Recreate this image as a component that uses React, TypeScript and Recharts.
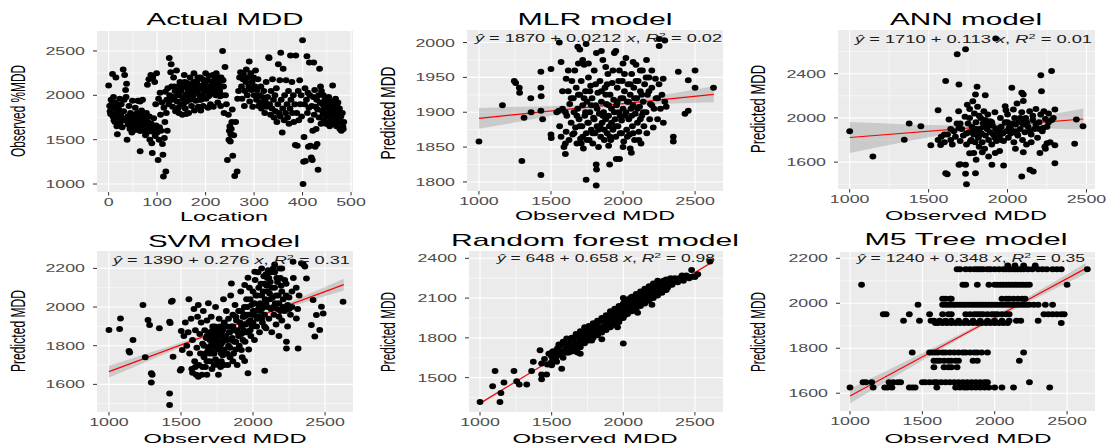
import React from 'react';
import { ComposedChart, Scatter, Line, Area, XAxis, YAxis, CartesianGrid } from 'recharts';

type Pt = [number, number];

const FONT = '"Liberation Sans", Arial, Helvetica, sans-serif';
const TICK_SCALE = 1.55;

// Observed MDD by location
const actualPts: Pt[] = [
  [0, 2110], [2, 1880], [3, 1820], [4, 1790], [5, 1950], [6, 1900], [7, 1850], [8, 2240], [9, 1760], [10, 1980],
  [11, 1720], [12, 1860], [13, 1700], [14, 1920], [15, 2200], [16, 1800], [17, 1650], [18, 1560], [19, 1750], [20, 1870],
  [22, 1830], [23, 1960], [24, 1690], [25, 1780], [26, 1900], [27, 1740], [28, 1640], [30, 2290], [31, 1820], [32, 1950],
  [33, 2230], [34, 1720], [35, 2060], [36, 1980], [37, 2130], [38, 1500], [39, 1760], [40, 1670],
  [41, 1760], [42, 1880], [43, 1720], [44, 1620], [44, 1660], [45, 1800], [46, 1690], [46, 1640], [47, 1760], [48, 1580],
  [48, 1720], [49, 1940], [50, 1700], [51, 1650], [52, 1780], [52, 1700], [53, 1730], [53, 1640], [54, 1610], [55, 1860],
  [56, 1690], [57, 1750], [57, 1680], [58, 1640], [58, 1720], [59, 1800], [60, 1720], [60, 1940], [61, 1670], [61, 1760],
  [62, 1940], [63, 1780], [63, 1700], [64, 1600], [65, 1370], [65, 1930], [66, 1710], [66, 1600], [67, 1650], [68, 1830],
  [68, 1780], [69, 1740], [70, 1690], [70, 1950], [71, 1740], [72, 1600], [73, 1780], [74, 1660], [74, 1630], [75, 1720],
  [76, 1550], [77, 1700], [78, 1800], [79, 1640], [80, 2120], [81, 1700], [82, 1590], [83, 2180], [84, 1760], [85, 1500],
  [86, 1630], [87, 2230], [88, 1680], [89, 1460], [90, 1350], [91, 2200], [92, 1590], [93, 1740], [94, 1620], [95, 2150],
  [96, 1540], [97, 1900], [98, 1660], [99, 2250], [100, 1580],
  [102, 1270], [103, 1960], [104, 1500], [105, 1640], [106, 2030], [107, 1780], [108, 1600], [110, 1920], [111, 1450],
  [112, 1330], [113, 1085], [114, 1860], [115, 1520], [116, 1700], [117, 2040], [118, 1140], [119, 1800], [120, 1950],
  [121, 1600], [122, 2080], [124, 1900], [125, 2420], [126, 2000], [128, 2260], [129, 2350], [130, 2100],
  [131, 1950], [132, 1870], [134, 2200], [135, 1980], [136, 2100], [137, 2050], [138, 1820], [140, 2280], [141, 1930],
  [142, 2000], [143, 2100], [144, 1860], [145, 1800], [146, 2000], [147, 2150], [148, 2050], [149, 1900], [150, 2060],
  [152, 1780], [153, 1960], [154, 1900], [155, 2100], [156, 2230], [157, 2150], [158, 1850], [159, 2010], [160, 1790],
  [161, 1930], [162, 2140], [163, 2000], [164, 2060], [165, 1800], [166, 2100], [167, 1970], [168, 2200], [169, 1950],
  [170, 2050], [171, 1880], [172, 2000], [173, 2120], [174, 1990], [175, 2150], [176, 2250], [177, 1830], [178, 2100],
  [179, 2080], [180, 1940], [181, 2050], [182, 2160], [183, 2030], [184, 2200], [185, 1870], [186, 2110], [187, 1950],
  [188, 2000], [189, 2200], [190, 1830], [191, 1950], [192, 2070], [193, 2000], [194, 2180], [195, 1880], [196, 2100],
  [197, 2130], [198, 2040], [199, 2150], [200, 2250], [201, 1960], [202, 2050], [203, 2100], [204, 2170], [205, 1860],
  [206, 1990], [207, 2220], [208, 2000], [209, 2080], [210, 1900], [211, 2080], [212, 2150], [213, 2030], [214, 2120],
  [215, 2230], [216, 1870], [217, 2050], [218, 2110], [219, 2190], [220, 2150], [221, 2000], [222, 2250], [223, 2000],
  [224, 2060], [225, 1920], [226, 2100], [227, 2140], [228, 2200], [229, 2050], [230, 1990], [231, 1880], [232, 2200],
  [233, 2100], [234, 2000], [235, 2500], [236, 2170], [237, 2100], [238, 1800], [240, 2320], [241, 2000],
  [243, 1900], [245, 1270], [247, 1780], [248, 1500], [249, 1600], [250, 1650], [251, 1480], [252, 1560], [253, 1620],
  [254, 1700], [255, 1840], [256, 1320], [258, 1550], [260, 1090], [262, 1700], [265, 1140], [266, 1960], [268, 2050],
  [270, 2200], [272, 2260], [274, 2100], [275, 1960], [277, 2180], [278, 2240], [280, 1880], [281, 2050], [283, 2150],
  [284, 2290], [286, 2000], [287, 2200], [289, 2100], [290, 2380], [291, 1930], [293, 2250], [294, 2060], [296, 2150],
  [297, 1870], [299, 2200], [300, 2000], [302, 2100], [303, 2280], [305, 1950], [306, 2060], [308, 2180], [309, 1880],
  [311, 2000], [312, 1920], [314, 2100], [315, 1850], [317, 1980], [318, 1900], [320, 2050], [322, 1800], [323, 1930],
  [325, 2150], [326, 1870], [328, 1980],
  [330, 2430], [331, 2420], [332, 1900], [334, 1780], [335, 2050], [337, 1850], [338, 2180], [340, 1950], [341, 1750],
  [343, 2000], [344, 1820], [346, 2080], [347, 1700], [349, 1900], [350, 2350], [351, 1800], [353, 2170], [354, 1760],
  [355, 2480], [356, 1950], [358, 1580], [359, 1850], [360, 2300], [362, 1720], [363, 2000], [365, 1800], [366, 2170],
  [368, 1900], [369, 1750], [371, 2050], [372, 1680], [374, 1850], [375, 2450], [376, 1950], [378, 2150], [379, 1800],
  [381, 2000], [382, 1700], [384, 1900], [385, 1440], [386, 2450], [388, 1800], [389, 1430], [391, 2050], [392, 1720],
  [394, 2170], [395, 1900], [397, 2000], [398, 1760],
  [400, 2620], [401, 1000], [402, 1250], [403, 1530], [404, 1900], [405, 2080], [406, 1260], [408, 1950], [409, 2440],
  [410, 1800], [411, 2030], [412, 1420], [413, 1860], [414, 2370], [415, 2000], [416, 1430], [417, 1720], [418, 1300],
  [419, 1880], [420, 1270], [421, 1600], [422, 1980], [423, 2370], [424, 1780], [425, 2060], [426, 1420], [427, 1870],
  [428, 1620], [429, 1950], [430, 1450], [431, 1840], [432, 1160], [433, 2000], [434, 1750], [435, 2300], [436, 1920],
  [437, 2100], [438, 1680], [439, 2050], [440, 1830],
  [441, 1900], [442, 1780], [443, 2000], [444, 1720], [445, 1850], [446, 1950], [447, 1800], [448, 1680], [449, 1880],
  [450, 1760], [451, 1920], [452, 1840], [453, 1700], [454, 1980], [455, 1800], [456, 1650], [457, 1870], [458, 1760],
  [459, 1930], [460, 1720], [461, 1820], [462, 2110], [463, 1680], [464, 1900], [465, 1780], [466, 1850], [467, 1700],
  [468, 1960], [469, 1800], [470, 1650], [471, 1880], [472, 1740], [473, 1920], [474, 1800], [475, 1700], [476, 1850],
  [477, 1620], [478, 1780], [479, 1760], [480, 1600], [481, 1700], [482, 1800], [483, 1650], [484, 1620], [485, 1700],
];

// MLR predictions vs observed
const mlrPts: Pt[] = [
  [1000, 1858], [1163, 1910], [1245, 1945], [1255, 1942], [1280, 1935], [1282, 1928], [1298, 1830], [1313, 1892],
  [1360, 1920], [1362, 1900], [1430, 1958], [1430, 1935], [1432, 1923], [1430, 1902], [1430, 1810], [1442, 1890],
  [1500, 1962], [1500, 1868], [1502, 1863], [1558, 2000], [1570, 1972], [1605, 1948], [1686, 1994], [1744, 1998],
  [1744, 1803], [1814, 1795], [1814, 1825], [1816, 1818], [1907, 1825], [1953, 1833], [1976, 1833], [2058, 1842],
  [2070, 1972], [2163, 1975], [2251, 2005], [2251, 1995], [2279, 1948], [2349, 1865], [2349, 1858], [2384, 1958],
  [2453, 1946], [2500, 1960], [2500, 1935], [2453, 1902], [2430, 1898], [2628, 1935], [2290, 2003],
  [1540, 1900], [1555, 1902], [1560, 1880], [1570, 1865], [1580, 1905], [1580, 1930], [1590, 1850], [1600, 1840],
  [1600, 1855], [1600, 1900], [1605, 1872], [1610, 1895], [1620, 1930], [1620, 1960], [1625, 1860], [1630, 1912],
  [1640, 1885], [1640, 1920], [1645, 1945], [1650, 1868], [1655, 1920], [1660, 1900], [1660, 1870], [1665, 1960],
  [1670, 1878], [1675, 1935], [1680, 1855], [1680, 1895], [1685, 1905], [1690, 1970], [1690, 1925], [1695, 1890],
  [1700, 1925], [1700, 1990], [1700, 1880], [1705, 1862], [1710, 1945], [1710, 1855], [1715, 1880], [1720, 1910],
  [1720, 1975], [1720, 1865], [1725, 1848], [1730, 1968], [1730, 1920], [1735, 1895], [1740, 1930], [1740, 1900],
  [1745, 1870], [1750, 1915], [1750, 1860], [1755, 1885], [1760, 1950], [1760, 1885], [1760, 1970], [1765, 1860],
  [1770, 1900], [1770, 1930], [1775, 1938], [1780, 1875], [1780, 1910], [1785, 1920], [1790, 1855], [1790, 1870],
  [1795, 1892], [1800, 1960], [1800, 1890], [1805, 1870], [1810, 1910], [1810, 1940], [1815, 1985], [1820, 1880],
  [1820, 1905], [1825, 1928], [1830, 1850], [1830, 1875], [1835, 1898], [1840, 1945], [1840, 1880], [1845, 1865],
  [1850, 1915], [1850, 1988], [1850, 1930], [1855, 1885], [1860, 1975], [1860, 1895], [1865, 1900], [1870, 1860],
  [1870, 1875], [1875, 1935], [1880, 1890], [1880, 1925], [1880, 1965], [1885, 1912], [1890, 1870], [1890, 1940],
  [1895, 1955], [1900, 1895], [1900, 1852], [1900, 1910], [1905, 1880], [1910, 1925], [1910, 1865], [1915, 1860],
  [1920, 1905], [1920, 1885], [1925, 1942], [1930, 1875], [1930, 1960], [1935, 1918], [1940, 1985], [1940, 1900],
  [1945, 1890], [1950, 1865], [1950, 1988], [1950, 1880], [1955, 1910], [1960, 1935], [1960, 1915], [1965, 1880],
  [1970, 1900], [1970, 1945], [1975, 1960], [1980, 1870], [1980, 1895], [1985, 1920], [1990, 1888], [1990, 1870],
  [1995, 1945], [2000, 1905], [2000, 1850], [2000, 1920], [2000, 1970], [2005, 1858], [2010, 1930], [2010, 1955],
  [2015, 1895], [2020, 1978], [2020, 1900], [2025, 1875], [2030, 1915], [2030, 1865], [2035, 1940], [2040, 1890],
  [2040, 1915], [2045, 1868], [2050, 1925], [2050, 1848], [2050, 1940], [2055, 1905], [2060, 1955], [2060, 1895],
  [2065, 1880], [2070, 1910], [2070, 1870], [2075, 1935], [2080, 1860], [2080, 1920], [2085, 1898], [2090, 1968],
  [2090, 1945], [2095, 1920], [2100, 1885], [2100, 1905], [2105, 1945], [2110, 1872], [2110, 1860], [2115, 1908],
  [2120, 1930], [2120, 1890], [2120, 1960], [2125, 1855], [2130, 1895], [2130, 1925], [2135, 1960], [2140, 1915],
  [2140, 1900], [2145, 1880], [2150, 1940], [2160, 1900], [2160, 1950], [2165, 1870], [2170, 1925], [2180, 1950],
  [2180, 1930], [2185, 1890], [2190, 1912], [2200, 1935], [2200, 1960], [2200, 1910], [2210, 1878], [2215, 1905],
  [2225, 1948], [2230, 1920], [2240, 1890], [2240, 1920], [2250, 1940], [2260, 1905], [2270, 1925], [2280, 1885],
  [2290, 1915], [2300, 1908],
];

// ANN predictions vs observed
const annPts: Pt[] = [
  [1000, 1879], [1147, 1652], [1346, 1803], [1377, 1949], [1451, 1924], [1514, 1752], [1560, 2070], [1576, 1755],
  [1608, 2333], [1608, 1500], [1618, 1491], [1629, 1985], [1681, 2576], [1692, 2303], [1734, 2621], [1692, 1909],
  [1692, 1576], [1734, 1494], [1734, 1576], [1740, 1400], [1765, 1788], [1786, 1682], [1797, 2212], [1807, 2282],
  [1797, 1500], [1801, 1621], [1859, 2206], [1891, 1970], [1901, 1576], [1922, 1682], [1933, 1894], [1975, 1570],
  [1985, 2106], [2027, 2273], [2037, 2076], [2090, 2227], [2100, 2212], [2090, 1470], [2100, 2152], [2142, 1530],
  [2163, 1515], [2211, 2385], [2215, 2242], [2205, 1682], [2279, 2424], [2300, 1591], [2300, 1752], [2226, 1909],
  [2300, 2076], [2425, 1767], [2436, 1985], [2478, 1924], [2236, 1740], [1925, 2718],
  [1560, 1800], [1580, 1830], [1600, 1780], [1600, 1850], [1620, 1850], [1640, 1800], [1640, 1900], [1650, 1760],
  [1660, 1880], [1670, 1830], [1680, 1950], [1690, 2060], [1700, 1790], [1700, 1580], [1700, 1950], [1710, 1900],
  [1720, 1840], [1730, 2010], [1740, 1760], [1740, 1860], [1745, 2120], [1750, 1950], [1755, 1870], [1760, 2080],
  [1760, 1680], [1760, 2000], [1770, 1800], [1775, 1920], [1780, 2150], [1780, 1880], [1785, 1850], [1790, 2040],
  [1795, 1780], [1800, 1960], [1800, 1900], [1805, 1880], [1810, 2100], [1815, 1820], [1820, 1740], [1820, 1840],
  [1820, 2020], [1825, 1900], [1830, 2000], [1835, 1860], [1840, 1780], [1840, 1690], [1845, 1950], [1850, 2060],
  [1850, 1920], [1855, 1720], [1860, 1840], [1860, 1980], [1870, 1900], [1875, 2030], [1880, 1800], [1880, 1650],
  [1880, 1940], [1890, 1870], [1900, 1760], [1900, 1960], [1905, 1930], [1910, 1850], [1920, 2050], [1920, 1820],
  [1925, 1900], [1930, 1790], [1940, 1880], [1950, 1840], [1950, 1700], [1950, 1900], [1955, 2000], [1960, 1920],
  [1960, 1800], [1970, 1860], [1975, 1790], [1985, 1960], [1990, 1880], [1990, 2070], [2000, 2030], [2000, 1960],
  [2005, 1820], [2010, 1910], [2020, 1860], [2020, 1900], [2030, 1950], [2040, 1780], [2045, 2000], [2050, 1880],
  [2050, 1720], [2050, 1940], [2060, 2130], [2060, 1860], [2065, 1840], [2070, 1960], [2080, 1900], [2080, 2000],
  [2090, 2050], [2095, 1800], [2100, 1940], [2100, 1690], [2100, 1980], [2110, 1870], [2115, 2000], [2120, 1760],
  [2120, 1960], [2130, 1920], [2140, 2060], [2140, 1880], [2150, 1850], [2150, 1780], [2160, 1980], [2160, 2020],
  [2170, 1900], [2180, 2080], [2180, 1940], [2190, 1820], [2200, 1960], [2200, 1900], [2210, 2030], [2220, 1880],
  [2230, 2060], [2240, 1990], [2240, 1720], [2250, 1920], [2250, 1770], [2260, 2040], [2260, 1960], [2270, 1780],
  [2280, 1980], [2290, 2000],
];

// SVM predictions vs observed
const svmPts: Pt[] = [
  [1000, 1881], [1080, 1941], [1074, 1886], [1167, 1829], [1139, 1772], [1144, 1765], [1236, 2010], [1252, 1740],
  [1271, 1933], [1282, 1907], [1294, 1657], [1300, 1650], [1294, 1610], [1350, 1890], [1421, 1924], [1425, 1918],
  [1433, 2028], [1440, 2032], [1445, 1743], [1421, 1553], [1421, 1493], [1502, 1680], [1495, 1672], [1509, 1778],
  [1502, 1876], [1850, 2122], [1942, 2114], [1965, 2152], [2012, 2183], [2278, 2234], [2336, 2226], [2371, 2148],
  [2301, 1941], [2313, 1786], [2232, 1786], [2232, 1821], [2417, 2036], [2405, 1907], [2429, 1847], [2463, 1881],
  [2475, 2002], [2487, 1967], [2440, 1959], [2625, 2028], [2081, 1671], [1965, 1657], [1942, 1721], [1919, 1778],
  [1520, 1850], [1530, 1920], [1540, 1800], [1550, 1870], [1555, 2040], [1560, 1760], [1570, 1940], [1575, 1680],
  [1580, 1830], [1580, 1660], [1590, 1990], [1595, 1720], [1600, 1880], [1600, 1690], [1605, 1650], [1610, 1790],
  [1615, 1950], [1620, 2010], [1620, 1640], [1625, 1700], [1630, 1860], [1635, 1760], [1640, 1920], [1645, 1650],
  [1650, 1810], [1650, 1690], [1655, 1980], [1660, 1740], [1660, 1800], [1665, 1880], [1670, 1690], [1670, 1760],
  [1675, 1840], [1680, 1930], [1680, 1650], [1680, 1850], [1680, 1720], [1685, 1770], [1690, 2020], [1690, 1790],
  [1695, 1860], [1700, 1720], [1700, 1870], [1700, 1830], [1700, 1760], [1705, 1800], [1710, 1950], [1710, 1840],
  [1710, 1770], [1715, 1680], [1720, 1880], [1720, 1810], [1720, 1900], [1720, 1760], [1725, 1830], [1730, 1760],
  [1730, 1850], [1730, 1700], [1730, 1800], [1735, 1900], [1740, 2000], [1740, 1790], [1740, 1860], [1740, 1730],
  [1745, 1820], [1750, 1710], [1750, 1830], [1750, 1880], [1755, 1860], [1760, 1780], [1760, 1860], [1760, 1650],
  [1760, 1820], [1760, 1700], [1765, 1940], [1770, 1850], [1770, 1800], [1770, 1900], [1775, 1690], [1780, 1810],
  [1780, 1870], [1780, 1760], [1780, 1720], [1785, 1890], [1790, 1750], [1790, 1820], [1790, 1880], [1795, 2040],
  [1800, 1840], [1800, 1920], [1800, 1780], [1800, 1700], [1805, 1760], [1810, 1900], [1810, 1850], [1815, 1980],
  [1820, 1830], [1820, 1900], [1820, 1760], [1825, 1700], [1830, 1940], [1830, 1800], [1835, 1870], [1840, 1790],
  [1840, 1870], [1840, 1740], [1845, 2060], [1850, 1900], [1850, 1830], [1855, 1840], [1860, 1960], [1860, 1900],
  [1860, 1720], [1865, 1760], [1870, 1880], [1870, 1820], [1875, 2010], [1880, 1820], [1880, 1950], [1880, 1780],
  [1885, 1930], [1890, 1700], [1890, 1880], [1895, 1870], [1900, 1980], [1900, 1850], [1905, 1800], [1910, 1920],
  [1910, 1980], [1915, 2080], [1920, 1860], [1920, 1900], [1920, 1980], [1925, 1740], [1930, 1950], [1930, 1830],
  [1935, 1880], [1940, 2000], [1940, 1950], [1945, 1820], [1950, 1910], [1950, 1870], [1950, 1960],
  [1955, 2040], [1960, 1870], [1960, 2000], [1965, 1960], [1970, 1780], [1970, 1920], [1975, 2100], [1980, 1930],
  [1980, 1880], [1980, 2040], [1985, 1850], [1990, 2010], [1990, 1960], [1995, 1900], [2000, 2080], [2000, 1920],
  [2000, 1980], [2005, 1960], [2010, 1830], [2010, 2020], [2015, 2140], [2020, 1980], [2020, 2060], [2025, 1900],
  [2030, 2060], [2030, 1940], [2035, 2180], [2040, 1950], [2040, 2100], [2040, 2000], [2045, 1870], [2050, 2020],
  [2050, 1980], [2055, 2120], [2060, 1990], [2060, 2060], [2060, 1940], [2060, 2200], [2065, 1920], [2070, 2080],
  [2070, 2000], [2075, 2160], [2080, 1960], [2080, 2120], [2080, 1900], [2085, 2040], [2090, 1890], [2090, 2020],
  [2090, 2170], [2095, 2110], [2100, 2000], [2100, 2080], [2100, 2150],
  [2105, 2190], [2110, 1940], [2110, 2150], [2115, 2070], [2120, 2130], [2120, 2040], [2120, 2180], [2125, 1990],
  [2130, 1870], [2130, 2100], [2135, 2050], [2140, 2200], [2140, 2000], [2145, 1960], [2150, 2100], [2150, 2180],
  [2150, 2220], [2155, 2020], [2160, 1910], [2160, 2060], [2165, 2150], [2170, 1990], [2170, 2130], [2175, 2060],
  [2180, 1850], [2180, 2020], [2180, 1950], [2185, 2200], [2190, 1980], [2190, 2150], [2195, 2110], [2200, 1930],
  [2200, 2080], [2200, 2200], [2210, 2040], [2210, 2000], [2220, 1980], [2220, 2140], [2230, 2120], [2230, 2060],
  [2240, 1900], [2240, 2010], [2250, 2050], [2250, 1990], [2260, 1960], [2270, 2000], [2270, 2080], [2280, 2150],
  [2300, 2100], [2310, 1990], [2320, 2060], [2350, 2220], [2360, 2210],
];

// Random forest predictions vs observed
const rfPts: Pt[] = [
  [1000, 1316], [1105, 1551], [1088, 1435], [1146, 1384], [1139, 1316], [1167, 1463], [1237, 1551], [1256, 1473],
  [1274, 1448], [1326, 1448], [1360, 1551], [1372, 1619], [1430, 1606], [1430, 1488], [1430, 1523], [1419, 1707],
  [1465, 1523], [1500, 1594], [1535, 1619], [1570, 1568], [1630, 1783], [1605, 1795], [2000, 1757], [2477, 2312],
  [2500, 2261], [2605, 2375],
  [1450, 1640], [1470, 1600], [1480, 1680], [1500, 1660], [1500, 1690], [1500, 1620], [1510, 1700], [1520, 1640],
  [1530, 1690], [1530, 1650], [1540, 1720], [1550, 1670], [1550, 1700], [1550, 1750], [1560, 1740], [1560, 1680],
  [1570, 1700], [1580, 1650], [1580, 1770], [1590, 1760], [1590, 1700], [1600, 1720], [1600, 1690], [1610, 1690],
  [1610, 1760], [1620, 1780], [1620, 1720], [1620, 1690], [1630, 1740], [1640, 1700], [1640, 1800], [1650, 1790],
  [1650, 1740], [1650, 1700], [1660, 1750], [1670, 1720], [1670, 1830], [1680, 1810], [1680, 1760], [1680, 1690],
  [1680, 1730], [1690, 1770], [1700, 1730], [1700, 1780], [1700, 1680], [1700, 1850], [1710, 1840], [1710, 1760],
  [1720, 1790], [1720, 1820], [1730, 1760], [1730, 1880], [1740, 1860], [1740, 1790], [1750, 1810], [1750, 1840],
  [1760, 1780], [1760, 1890], [1770, 1880], [1770, 1800], [1780, 1830], [1780, 1860], [1780, 1780], [1790, 1800],
  [1790, 1910], [1800, 1900], [1800, 1860], [1800, 1820], [1810, 1850], [1820, 1820], [1820, 1880], [1820, 1930],
  [1830, 1920], [1830, 1850], [1840, 1870], [1850, 1840], [1850, 1880], [1850, 1790], [1850, 1950], [1860, 1930],
  [1860, 1870], [1870, 1890], [1880, 1860], [1880, 1910], [1880, 1970], [1890, 1950], [1890, 1890], [1900, 1910],
  [1900, 1940], [1900, 1970], [1910, 1880], [1910, 2000], [1920, 1970], [1920, 1940], [1920, 1910], [1930, 1930],
  [1940, 1900], [1940, 2020], [1950, 2000], [1950, 1960], [1950, 1930], [1960, 1950], [1960, 1880], [1970, 1920],
  [1970, 2040], [1980, 2030], [1980, 1990], [1980, 1950], [1990, 1980], [2000, 1950], [2000, 2000], [2000, 2100],
  [2000, 2060], [2010, 2080], [2010, 1970], [2020, 2010], [2020, 2040], [2030, 1980], [2030, 2090], [2040, 2060],
  [2040, 2000], [2050, 2030], [2050, 2060], [2050, 2100], [2060, 2000], [2060, 2110], [2070, 2100], [2070, 2030],
  [2080, 2050], [2080, 2080], [2090, 2020], [2090, 2130], [2100, 2110], [2100, 2080], [2100, 1990], [2100, 2040],
  [2110, 2070], [2120, 2040], [2120, 2100], [2120, 2150], [2130, 2130], [2130, 2070], [2140, 2090], [2150, 2060],
  [2150, 2120], [2150, 2170], [2160, 2150], [2160, 2090], [2170, 2110], [2180, 2080], [2180, 2130], [2180, 2190],
  [2190, 2170], [2190, 2110], [2200, 2130], [2200, 2160], [2200, 2050], [2210, 2100], [2210, 2210], [2220, 2190],
  [2220, 2160], [2220, 2130], [2230, 2150], [2240, 2120], [2240, 2230], [2250, 2220], [2250, 2190], [2250, 2150],
  [2260, 2170], [2270, 2140], [2270, 2210], [2280, 2230], [2280, 2180], [2280, 2160], [2290, 2190], [2300, 2160],
  [2300, 2200], [2300, 2240], [2310, 2180], [2320, 2220], [2330, 2250], [2340, 2200], [2350, 2230], [2360, 2250],
  [2380, 2220], [2390, 2250], [2400, 2240], [2410, 2270], [2420, 2230], [2440, 2270], [2450, 2260], [2460, 2250],
  [2480, 2260], [2500, 2260], [2520, 2280],
];

// M5 tree predictions: each row is one predicted level with its observed values
const m5Rows: [number, number[]][] = [
  [2151, [1740, 1760, 1800, 1830, 1860, 1880, 1900, 1920, 1950, 1970, 2000, 2030, 2060, 2080, 2100, 2120, 2140,
    2160, 2180, 2200, 2230, 2260, 2300, 2330, 2360, 2400, 2430, 2460, 2640]],
  [2168, [2090, 2140, 2200, 2280]],
  [2082, [1080, 1780, 1800, 1880, 1960, 2000, 2020, 2040, 2060, 2080, 2100, 2120, 2140, 2160, 2180, 2200, 2220,
    2240, 2500]],
  [2020, [1640, 1660, 1690, 1700, 2050, 2080, 2100, 2130, 2160, 2190, 2210]],
  [1993, [1470, 1640, 1660, 1680, 1700, 1720, 1740, 1760, 1780, 1800, 1820, 1840, 1860, 1880, 1900, 1920, 1940,
    1960, 1980, 2000, 2020, 2040, 2060, 2080, 2100, 2120, 2140, 2160, 2180, 2200, 2220, 2240, 2270, 2300, 2350, 2400]],
  [1951, [1230, 1250, 1410, 1550, 1640, 1680, 1700, 1800, 1830, 1860, 1880, 1900, 1920, 1950, 1980, 2000, 2020,
    2050, 2080, 2100, 2340, 2370, 2400, 2430, 2460, 2480]],
  [1922, [1370, 1480, 1560, 1580, 1620, 1660, 1700, 1750, 1800, 1850, 1900, 1950, 2000, 2050, 2100, 2150, 2180, 2300]],
  [1912, [1590, 1610, 1640, 1670, 1700, 1730, 1760, 1790, 1820, 1850, 1880, 1910, 1940, 1970, 2000, 2030, 2060,
    2090, 2460]],
  [1781, [1430, 1550, 1570, 1590, 1610, 1640, 1660, 1690, 1720, 1750, 1780, 1800, 1830, 1860, 1880, 1910, 1950, 2200]],
  [1744, [1580, 1600, 1620, 1650, 1680, 1700, 1730, 1750, 1850, 1880, 2170]],
  [1716, [1580, 1650, 1680, 1700, 1740]],
  [1649, [1090, 1110, 1150, 1270, 1300, 1330, 1350, 1500, 1520, 1550, 1580, 1600, 1630, 1660, 1690, 1720, 1750,
    1780, 1810, 1840, 1870, 1900, 1930, 1950, 2240]],
  [1626, [1000, 1160, 1240, 1260, 1290, 1410, 1430, 1450, 1600, 1730, 1760, 1790, 1810, 1840, 1870, 1900, 1930,
    1960, 2000, 2050, 2130, 2380]],
];
const m5Pts: Pt[] = m5Rows.flatMap(([y, xs]) => xs.map((x) => [x, y] as Pt));

// fitted lines: y = intercept + slope * x
const fitIntercept = [1870, 1710, 1390, 648, 1240];
const fitSlope = [0.0212, 0.113, 0.276, 0.658, 0.348];
const fitR2 = ['0.02', '0.01', '0.31', '0.98', '0.35'];
const fitRange: Pt[] = [[1000, 2630], [1000, 2480], [1000, 2630], [1000, 2630], [1000, 2630]];

// confidence band half-widths along x
const bandX = [1000, 1200, 1400, 1600, 1800, 2000, 2200, 2400, 2630];
const annBandX = [1000, 1200, 1400, 1600, 1800, 2000, 2200, 2480];
const bandHalf = [
  [15, 12, 8.5, 5.5, 3.8, 3.8, 5.5, 8, 11.5],
  [140, 105, 70, 42, 28, 32, 52, 95],
  [30, 23, 16, 10, 7, 7, 11, 19, 30],
  [9, 7, 5, 4, 3, 3, 4, 5, 8],
  [32, 26, 19, 13, 9, 8, 11, 16, 24],
];

const obsTicks = [1000, 1500, 2000, 2500];
const obsMinor = [1250, 1750, 2250];

type Rect = { left: number; top: number; right: number; bottom: number };
type PanelCfg = {
  rect: Rect;
  xDomain: [number, number];
  yDomain: [number, number];
  xTicks: number[];
  xMinor: number[];
  yTicks: number[];
  yMinor: number[];
  points: Pt[];
  fit?: number;
};

const panels: PanelCfg[] = [
  {
    rect: { left: 97, top: 31, right: 353, bottom: 192 },
    xDomain: [-24, 504], yDomain: [910, 2725],
    xTicks: [0, 100, 200, 300, 400, 500], xMinor: [50, 150, 250, 350, 450],
    yTicks: [1000, 1500, 2000, 2500], yMinor: [1250, 1750, 2250],
    points: actualPts,
  },
  {
    rect: { left: 467, top: 30, right: 723, bottom: 191 },
    xDomain: [917, 2694], yDomain: [1787, 2018],
    xTicks: obsTicks, xMinor: obsMinor,
    yTicks: [1800, 1850, 1900, 1950, 2000], yMinor: [1825, 1875, 1925, 1975],
    points: mlrPts, fit: 0,
  },
  {
    rect: { left: 838, top: 30, right: 1095, bottom: 189 },
    xDomain: [926, 2554], yDomain: [1357, 2795],
    xTicks: obsTicks, xMinor: obsMinor,
    yTicks: [1600, 2000, 2400], yMinor: [1400, 1800, 2200, 2600],
    points: annPts, fit: 1,
  },
  {
    rect: { left: 97, top: 251, right: 353, bottom: 412 },
    xDomain: [917, 2694], yDomain: [1457, 2290],
    xTicks: obsTicks, xMinor: obsMinor,
    yTicks: [1600, 1800, 2000, 2200], yMinor: [1500, 1700, 1900, 2100],
    points: svmPts, fit: 2,
  },
  {
    rect: { left: 469, top: 251, right: 723, bottom: 412 },
    xDomain: [923, 2696], yDomain: [1241, 2455],
    xTicks: obsTicks, xMinor: obsMinor,
    yTicks: [1500, 1800, 2100, 2400], yMinor: [1350, 1650, 1950, 2250],
    points: rfPts, fit: 3,
  },
  {
    rect: { left: 840, top: 252, right: 1095, bottom: 411 },
    xDomain: [931, 2693], yDomain: [1521, 2228],
    xTicks: obsTicks, xMinor: obsMinor,
    yTicks: [1600, 1800, 2000, 2200], yMinor: [1700, 1900, 2100],
    points: m5Pts, fit: 4,
  },
];

const fitLine = (i: number) =>
  fitRange[i].map((x) => ({ x, y: fitIntercept[i] + fitSlope[i] * x }));

const fitBand = (i: number) =>
  (i === 1 ? annBandX : bandX).map((x, k) => {
    const y = fitIntercept[i] + fitSlope[i] * x;
    return { x, band: [y - bandHalf[i][k], y + bandHalf[i][k]] };
  });

const Dot = (props: any) => <ellipse cx={props.cx} cy={props.cy} rx={3.4} ry={3} fill="#000000" />;

const XTick = (props: any) => (
  <text
    transform={`translate(${props.x},${props.y}) scale(${TICK_SCALE},1)`}
    textAnchor="middle"
    dy="0.71em"
    fontSize={11.5}
    fontFamily={FONT}
    fill="#4D4D4D"
  >
    {props.payload.value}
  </text>
);

const YTick = (props: any) => (
  <text
    transform={`translate(${props.x},${props.y}) scale(${TICK_SCALE},1)`}
    textAnchor="end"
    dy="0.35em"
    fontSize={11.5}
    fontFamily={FONT}
    fill="#4D4D4D"
  >
    {props.payload.value}
  </text>
);

const Panel: React.FC<{ cfg: PanelCfg }> = ({ cfg }) => {
  const { left, top, right, bottom } = cfg.rect;
  const w = right - left;
  const h = bottom - top;
  const pts = cfg.points.map(([x, y]) => ({ x, y }));
  return (
    <div style={{ position: 'absolute', left: left - 60, top: top - 10 }}>
      <ComposedChart width={w + 90} height={h + 40} margin={{ top: 10, right: 30, bottom: 0, left: 0 }}>
        <CartesianGrid
          fill="#EBEBEB"
          stroke="#FFFFFF"
          strokeWidth={0.55}
          horizontalValues={cfg.yMinor}
          verticalValues={cfg.xMinor}
        />
        <CartesianGrid stroke="#FFFFFF" strokeWidth={1.1} horizontalValues={cfg.yTicks} verticalValues={cfg.xTicks} />
        <XAxis
          type="number"
          dataKey="x"
          domain={cfg.xDomain}
          ticks={cfg.xTicks}
          interval={0}
          allowDataOverflow
          height={30}
          tickSize={3.5}
          tickMargin={2}
          axisLine={false}
          tickLine={{ stroke: '#333333' }}
          tick={(p: any) => <XTick {...p} />}
        />
        <YAxis
          type="number"
          dataKey="y"
          domain={cfg.yDomain}
          ticks={cfg.yTicks}
          interval={0}
          allowDataOverflow
          width={60}
          tickSize={4}
          tickMargin={8}
          axisLine={false}
          tickLine={{ stroke: '#333333' }}
          tick={(p: any) => <YTick {...p} />}
        />
        <Scatter data={pts} dataKey="y" shape={Dot} isAnimationActive={false} />
        {cfg.fit !== undefined && (
          <Area
            data={fitBand(cfg.fit)}
            dataKey="band"
            type="linear"
            stroke="none"
            fill="#999999"
            fillOpacity={0.4}
            dot={false}
            activeDot={false}
            isAnimationActive={false}
          />
        )}
        {cfg.fit !== undefined && (
          <Line
            data={fitLine(cfg.fit)}
            dataKey="y"
            type="linear"
            stroke="#FF0000"
            strokeWidth={1.2}
            dot={false}
            activeDot={false}
            isAnimationActive={false}
          />
        )}
      </ComposedChart>
    </div>
  );
};

// titles, axis titles and fit labels, all drawn horizontally stretched
const titles = ['Actual MDD', 'MLR model', 'ANN model', 'SVM model', 'Random forest model', 'M5 Tree model'];
const titlePos = [[225, 25, 157], [595, 25, 155], [966, 25, 152], [224, 247, 152], [595, 246, 288], [966, 245, 203]];
const xTitles = ['Location', 'Observed MDD', 'Observed MDD', 'Observed MDD', 'Observed MDD', 'Observed MDD'];
const xTitlePos = [[224, 221, 88], [595, 220, 160], [966, 220, 162], [225, 443, 163], [595, 443, 165], [968, 443, 167]];
const yTitles = ['Observed %MDD', 'Predicted MDD', 'Predicted MDD', 'Predicted MDD', 'Predicted MDD', 'Predicted MDD'];
const yTitlePos = [[25, 111, 92], [395, 113, 93], [765, 109, 88], [25, 331, 82], [395, 332, 80], [765, 332, 80]];
const eqPos = [[722, 42, 247], [1092, 43, 237], [350, 264, 237], [715, 262, 218], [1085, 262, 228]];

const Labels: React.FC = () => (
  <svg width={1113} height={445} style={{ position: 'absolute', left: 0, top: 0, pointerEvents: 'none' }}>
    <defs>
      <clipPath id="clip-rf-title">
        <rect x={0} y={0} width={738} height={445} />
      </clipPath>
    </defs>
    {titles.map((t, i) => (
      <text
        key={t}
        x={titlePos[i][0]}
        y={titlePos[i][1]}
        textAnchor="middle"
        textLength={titlePos[i][2]}
        lengthAdjust="spacingAndGlyphs"
        fontSize={17}
        fontFamily={FONT}
        fill="#000000"
        clipPath={i === 4 ? 'url(#clip-rf-title)' : undefined}
      >
        {t}
      </text>
    ))}
    {xTitles.map((t, i) => (
      <text
        key={`x${i}`}
        x={xTitlePos[i][0]}
        y={xTitlePos[i][1]}
        textAnchor="middle"
        textLength={xTitlePos[i][2]}
        lengthAdjust="spacingAndGlyphs"
        fontSize={13.5}
        fontFamily={FONT}
        fill="#000000"
      >
        {t}
      </text>
    ))}
    {yTitles.map((t, i) => (
      <text
        key={`y${i}`}
        transform={`translate(${yTitlePos[i][0]},${yTitlePos[i][1]}) scale(1.5,1) rotate(-90)`}
        textAnchor="middle"
        textLength={yTitlePos[i][2]}
        lengthAdjust="spacingAndGlyphs"
        fontSize={14}
        fontFamily={FONT}
        fill="#000000"
      >
        {t}
      </text>
    ))}
    {eqPos.map((p, i) => (
      <text
        key={`eq${i}`}
        x={p[0]}
        y={p[1]}
        textAnchor="end"
        textLength={p[2]}
        lengthAdjust="spacingAndGlyphs"
        fontSize={10}
        fontFamily={FONT}
        fill="#1A1A1A"
      >
        <tspan fontStyle="italic">ŷ</tspan>
        {` = ${fitIntercept[i]} + ${fitSlope[i]} `}
        <tspan fontStyle="italic">x</tspan>
        {', '}
        <tspan fontStyle="italic">R</tspan>
        <tspan dy={-4} fontSize={7}>2</tspan>
        <tspan dy={4}>{` = ${fitR2[i]}`}</tspan>
      </text>
    ))}
  </svg>
);

const App: React.FC = () => (
  <div style={{ position: 'absolute', left: 0, top: 0, width: 1113, height: 445, background: '#FFFFFF' }}>
    {panels.map((cfg, i) => (
      <Panel key={i} cfg={cfg} />
    ))}
    <Labels />
  </div>
);

export default App;
